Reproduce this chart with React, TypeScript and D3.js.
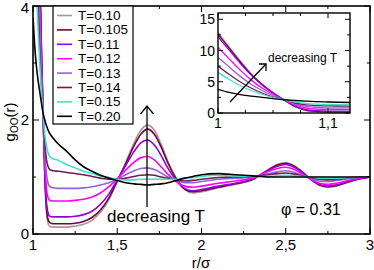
import React from "react";
import * as d3 from "d3";

// r/sigma grid shared by all curves
const R = [
  1.0, 1.01, 1.02, 1.03, 1.04, 1.05, 1.06, 1.07, 1.08, 1.09, 1.1, 1.12, 1.15,
  1.2, 1.25, 1.3, 1.35, 1.4, 1.45, 1.5, 1.55, 1.6, 1.64, 1.68, 1.72, 1.76, 1.8,
  1.85, 1.9, 1.95, 2.0, 2.1, 2.2, 2.3, 2.4, 2.45, 2.5, 2.55, 2.6, 2.65, 2.7,
  2.75, 2.8, 2.9, 3.0,
];

const gT010 = [
  12.9, 10.6, 8.4, 6.3, 4.6, 3.25, 2.1, 1.0, 0.4, 0.18, 0.13, 0.12, 0.12, 0.12,
  0.14, 0.17, 0.24, 0.38, 0.6, 0.92, 1.25, 1.6, 1.82, 1.91, 1.82, 1.58, 1.28,
  0.98, 0.78, 0.72, 0.74, 0.81, 0.87, 0.95, 1.14, 1.22, 1.25, 1.2, 1.09, 0.96,
  0.85, 0.82, 0.84, 0.94, 1.0,
];
const gT0105 = [
  12.6, 10.4, 8.2, 6.2, 4.6, 3.25, 2.1, 1.05, 0.45, 0.25, 0.2, 0.18, 0.18, 0.18,
  0.19, 0.22, 0.29, 0.42, 0.63, 0.93, 1.23, 1.55, 1.75, 1.84, 1.75, 1.53, 1.25,
  0.97, 0.79, 0.74, 0.76, 0.82, 0.88, 0.95, 1.13, 1.21, 1.24, 1.19, 1.08, 0.96,
  0.86, 0.83, 0.85, 0.94, 1.0,
];
const gT011 = [
  12.2, 10.1, 8.0, 6.1, 4.5, 3.2, 2.1, 1.1, 0.55, 0.36, 0.31, 0.3, 0.3, 0.3,
  0.31, 0.34, 0.4, 0.52, 0.7, 0.95, 1.2, 1.45, 1.6, 1.65, 1.56, 1.38, 1.16, 0.94,
  0.8, 0.76, 0.78, 0.84, 0.89, 0.96, 1.12, 1.19, 1.22, 1.17, 1.07, 0.96, 0.87,
  0.84, 0.86, 0.95, 1.0,
];
const gT012 = [
  10.5, 8.7, 6.9, 5.3, 4.0, 3.0, 2.1, 1.3, 0.8, 0.63, 0.59, 0.58, 0.58, 0.58,
  0.59, 0.61, 0.65, 0.72, 0.83, 0.97, 1.12, 1.26, 1.34, 1.36, 1.3, 1.18, 1.05,
  0.92, 0.84, 0.82, 0.84, 0.89, 0.93, 0.98, 1.1, 1.15, 1.17, 1.13, 1.05, 0.96,
  0.89, 0.87, 0.89, 0.96, 1.0,
];
const gT013 = [
  8.9, 7.4, 5.9, 4.6, 3.6, 2.8, 2.1, 1.45, 1.05, 0.88, 0.83, 0.81, 0.8, 0.8,
  0.8, 0.81, 0.83, 0.86, 0.9, 0.96, 1.04, 1.11, 1.15, 1.16, 1.13, 1.07, 1.0,
  0.94, 0.9, 0.9, 0.92, 0.96, 0.98, 1.0, 1.06, 1.09, 1.11, 1.08, 1.03, 0.98,
  0.93, 0.92, 0.94, 0.98, 1.0,
];
const gT014 = [
  7.5, 6.2, 5.0, 4.0, 3.2, 2.6, 2.1, 1.6, 1.3, 1.18, 1.13, 1.11, 1.1, 1.08,
  1.06, 1.04, 1.01, 0.98, 0.96, 0.96, 0.98, 1.01, 1.03, 1.04, 1.03, 1.0, 0.98,
  0.95, 0.93, 0.94, 0.96, 0.99, 1.0, 1.01, 1.04, 1.06, 1.07, 1.05, 1.02, 0.99,
  0.96, 0.95, 0.96, 0.99, 1.0,
];
const gT015 = [
  6.5, 5.4, 4.4, 3.6, 3.0, 2.5, 2.1, 1.75, 1.55, 1.42, 1.36, 1.32, 1.29, 1.22,
  1.16, 1.1, 1.06, 1.02, 0.99, 0.96, 0.95, 0.95, 0.96, 0.96, 0.96, 0.96, 0.96,
  0.96, 0.97, 0.99, 1.01, 1.03, 1.02, 1.01, 1.01, 1.02, 1.03, 1.02, 1.01, 1.0,
  0.98, 0.98, 0.98, 0.99, 1.0,
];
const gT020 = [
  3.8, 3.3, 2.95, 2.7, 2.5, 2.3, 2.12, 2.0, 1.9, 1.82, 1.76, 1.68, 1.58, 1.45,
  1.3, 1.18, 1.1, 1.03, 0.98, 0.94, 0.9, 0.88, 0.87, 0.86, 0.87, 0.88, 0.9,
  0.94, 0.98, 1.01, 1.04, 1.06, 1.04, 1.02, 1.0, 1.0, 1.0, 1.0, 1.0, 1.0, 1.0,
  1.0, 1.0, 1.0, 1.0,
];

const labels = ["T=0.10", "T=0.105", "T=0.11", "T=0.12", "T=0.13", "T=0.14", "T=0.15", "T=0.20"];
const colors = ["#bc8f8f", "#670748", "#9400d3", "#ff00ff", "#9362d8", "#6e1c4e", "#40e0d0", "#000000"];
const values = [gT010, gT0105, gT011, gT012, gT013, gT014, gT015, gT020];

const xTicks = [1, 1.5, 2, 2.5, 3];
const xTickLabels = ["1", "1,5", "2", "2,5", "3"];
const xMinor = [1.25, 1.75, 2.25, 2.75];
const yTicks = [0, 2, 4];
const yMinor = [1, 3];
const insetXTicks = [1, 1.1];
const insetXTickLabels = ["1", "1,1"];
const insetXMinor = [1.025, 1.05, 1.075];
const insetYTicks = [0, 5, 10, 15];
const insetYMinor = [2.5, 7.5, 12.5];

// no serif face is available in the sandbox, Liberation Sans keeps the widths close
const FONT = "'Liberation Sans', Arial, sans-serif";

export default function App() {
  const x = d3.scaleLinear().domain([1, 3]).range([33, 370]);
  const y = d3.scaleLinear().domain([0, 4]).range([234, 6]);
  const ix = d3.scaleLinear().domain([1, 1.12]).range([218, 350]);
  const iy = d3.scaleLinear().domain([0, 16]).range([113, 13]);

  const series = labels.map((label, i) => ({
    label,
    color: colors[i],
    points: R.map((r, j) => [r, values[i][j]] as [number, number]),
  }));

  const mainLine = d3
    .line<[number, number]>()
    .x((d) => x(d[0]))
    .y((d) => y(d[1]))
    .curve(d3.curveMonotoneX);
  const insetLine = d3
    .line<[number, number]>()
    .x((d) => ix(d[0]))
    .y((d) => iy(d[1]))
    .curve(d3.curveMonotoneX);

  const [x0, x1] = x.range();
  const [y0, y1] = y.range();
  const [ix0, ix1] = ix.range();
  const [iy0, iy1] = iy.range();

  const tickLines = (
    xs: number[],
    ys: number[],
    sx: any,
    sy: any,
    len: number,
    key: string
  ) => {
    const [a, b] = sx.range();
    const [c, d] = sy.range();
    return (
      <g key={key} stroke="#000" strokeWidth={1}>
        {xs.map((v) => (
          <g key={"x" + v}>
            <line x1={sx(v)} x2={sx(v)} y1={c} y2={c - len} />
            <line x1={sx(v)} x2={sx(v)} y1={d} y2={d + len} />
          </g>
        ))}
        {ys.map((v) => (
          <g key={"y" + v}>
            <line x1={a} x2={a + len} y1={sy(v)} y2={sy(v)} />
            <line x1={b} x2={b - len} y1={sy(v)} y2={sy(v)} />
          </g>
        ))}
      </g>
    );
  };

  return (
    <svg
      width={374}
      height={270}
      style={{ position: "absolute", left: 0, top: 0, background: "#fff", fontFamily: FONT }}
    >
      <defs>
        <clipPath id="mainClip">
          <rect x={x0} y={y1} width={x1 - x0} height={y0 - y1} />
        </clipPath>
        <clipPath id="insetClip">
          <rect x={ix0} y={iy1} width={ix1 - ix0} height={iy0 - iy1} />
        </clipPath>
      </defs>

      {/* main curves */}
      <g clipPath="url(#mainClip)" fill="none">
        {series.map((s) => (
          <path key={s.label} d={mainLine(s.points) || ""} stroke={s.color} strokeWidth={1.6} />
        ))}
      </g>

      {/* main frame and ticks */}
      <rect x={x0} y={y1} width={x1 - x0} height={y0 - y1} fill="none" stroke="#000" strokeWidth={1.6} />
      {tickLines(xTicks, yTicks, x, y, 6, "major")}
      {tickLines(xMinor, yMinor, x, y, 3, "minor")}
      <g fontSize={15} textAnchor="middle">
        {xTicks.map((v, i) => (
          <text key={v} x={x(v)} y={250}>
            {xTickLabels[i]}
          </text>
        ))}
      </g>
      <g fontSize={15} textAnchor="end">
        {yTicks.map((v) => (
          <text key={v} x={29} y={Math.max(y(v) + 5, 13)}>
            {v}
          </text>
        ))}
      </g>
      <text x={201} y={268} fontSize={15} textAnchor="middle">
        r/σ
      </text>
      <text transform="translate(15,122) rotate(-90)" fontSize={15} textAnchor="middle">
        g<tspan fontSize={10} dy={3}>OO</tspan>
        <tspan dy={-3}>(r)</tspan>
      </text>

      {/* legend */}
      <rect x={53} y={6} width={80} height={118} fill="#fff" stroke="#000" strokeWidth={1.2} />
      {series.map((s, i) => {
        const ry = 15.5 + i * 14.4;
        return (
          <g key={s.label}>
            <line x1={57} x2={72} y1={ry} y2={ry} stroke={s.color} strokeWidth={1.6} />
            <text x={78} y={ry + 4.5} fontSize={13.5}>
              {s.label}
            </text>
          </g>
        );
      })}

      {/* main annotations */}
      <g stroke="#000" strokeWidth={1.3} fill="none">
        <line x1={147} x2={147} y1={207} y2={106} />
        <polyline points="140.5,114 147,106 153.5,114" />
      </g>
      <text x={107} y={222} fontSize={17}>
        decreasing T
      </text>
      <text x={281} y={215} fontSize={16}>
        φ = 0.31
      </text>

      {/* inset */}
      <rect x={ix0} y={iy1} width={ix1 - ix0} height={iy0 - iy1} fill="#fff" />
      <g clipPath="url(#insetClip)" fill="none">
        {series.map((s) => (
          <path key={s.label} d={insetLine(s.points) || ""} stroke={s.color} strokeWidth={1.3} />
        ))}
      </g>
      <rect x={ix0} y={iy1} width={ix1 - ix0} height={iy0 - iy1} fill="none" stroke="#000" strokeWidth={1.4} />
      {tickLines(insetXTicks, insetYTicks, ix, iy, 5, "imajor")}
      {tickLines(insetXMinor, insetYMinor, ix, iy, 3, "iminor")}
      <g fontSize={14} textAnchor="end">
        {insetYTicks.map((v) => (
          <text key={v} x={215} y={iy(v) + 5}>
            {v}
          </text>
        ))}
      </g>
      <g fontSize={14} textAnchor="middle">
        {insetXTicks.map((v, i) => (
          <text key={v} x={ix(v)} y={128}>
            {insetXTickLabels[i]}
          </text>
        ))}
      </g>
      <g stroke="#000" strokeWidth={1.3} fill="none">
        <line x1={230} y1={102} x2={266} y2={64} />
        <polyline points="259,64 266,64 266,71" />
      </g>
      <text x={268} y={62} fontSize={12}>
        decreasing T
      </text>
    </svg>
  );
}
